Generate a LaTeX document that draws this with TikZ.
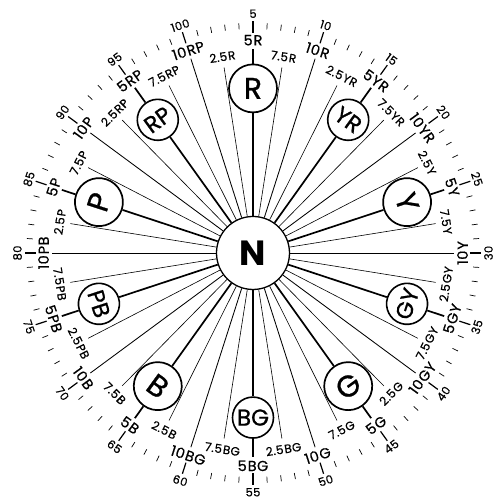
\documentclass[tikz,border=0pt]{standalone}
\usepackage{fontspec}
\setmainfont{Poppins}
\newfontfamily\labf{Poppins}[LetterSpace=3, FakeBold=0.5]
\newfontfamily\circf{Poppins}[FakeBold=0.8]
\begin{document}
\begin{tikzpicture}[x=1pt,y=1.016pt,
  tickminor/.style={line width=0.7pt},
  tickmajor/.style={line width=1.2pt},
  numlab/.style={font=\labf\fontsize{11.5}{11.5}\selectfont, inner sep=0pt},
  hlab/.style={font=\labf\fontsize{14.5}{14.5}\selectfont, inner sep=0pt},
  mlab/.style={font=\labf\fontsize{12}{12}\selectfont, inner sep=0pt},
  spoke/.style={line width=0.6pt},
  spokemid/.style={line width=0.85pt},
  spokemain/.style={line width=1.7pt},
  bigc/.style={circle, draw, line width=1.7pt, minimum size=48pt, inner sep=0pt, font=\circf\fontsize{30}{30}\selectfont},
  smallc/.style={circle, draw, line width=1.6pt, minimum size=41pt, inner sep=0pt, font=\circf\fontsize{23}{23}\selectfont},
  ncirc/.style={circle, draw, line width=1.3pt, minimum size=73pt, inner sep=0pt, font=\bfseries\fontsize{35}{35}\selectfont}]
\fill[white] (-253,-245.1) rectangle (242,249.0);
\useasboundingbox (-253,-245.1) rectangle (242,249.0);
\node[ncirc] (N) at (0,0) {N};
% outer ticks and numbers
\foreach \h in {1,...,100}{
  \pgfmathsetmacro\a{108-3.6*\h}
  \pgfmathsetmacro\rot{ifthenelse(and(\h>29.9,\h<79.9),198-3.6*\h,18-3.6*\h)}
  \pgfmathtruncatemacro\m{mod(\h,5)}
  \ifnum\m=0
    \coordinate (ti\h) at (\a:217);
    \coordinate (to\h) at (\a:228.5);
    \draw[tickmajor] (ti\h) -- (to\h);
    \node[numlab, rotate=\rot] (num\h) at (\a:235.5) {\h};
  \else
    \coordinate (ti\h) at (\a:220.5);
    \coordinate (to\h) at (\a:226.5);
    \draw[tickminor] (ti\h) -- (to\h);
  \fi
}
% hue families
\foreach \fam [count=\i from 0] in {R,YR,Y,GY,G,BG,B,PB,P,RP}{
  \pgfmathtruncatemacro\base{10*\i}
  % 2.5 and 7.5 spokes
  \foreach \off/\j in {2.5/a,7.5/b}{
    \pgfmathsetmacro\hh{\base+\off}
    \pgfmathsetmacro\a{108-3.6*\hh}
    \pgfmathsetmacro\rot{ifthenelse(and(\hh>29.9,\hh<79.9),198-3.6*\hh,18-3.6*\hh)}
    \coordinate (e\i\j) at (\a:185);
    \draw[spoke] (N) -- (e\i\j);
    \node[mlab, rotate=\rot] (l\i\j) at (\a:195.5) {\off\kern1pt\fam};
  }
  % 10 spoke
  \pgfmathsetmacro\hh{\base+10}
  \pgfmathsetmacro\a{108-3.6*\hh}
  \pgfmathsetmacro\rot{ifthenelse(and(\hh>29.9,\hh<79.9),198-3.6*\hh,18-3.6*\hh)}
  \coordinate (e\i t) at (\a:201);
  \draw[spokemid] (N) -- (e\i t);
  \node[hlab, rotate=\rot] (l\i t) at (\a:209.5) {10\kern1pt\fam};
  % 5 spoke with circle
  \pgfmathsetmacro\hh{\base+5}
  \pgfmathsetmacro\a{108-3.6*\hh}
  \pgfmathsetmacro\rot{ifthenelse(and(\hh>29.9,\hh<79.9),198-3.6*\hh,18-3.6*\hh)}
  \pgfmathtruncatemacro\parity{mod(\i,2)}
  \ifnum\parity=0
    \node[bigc, rotate=\rot] (c\i) at (\a:162) {\fam};
  \else
    \node[smallc, rotate=\rot] (c\i) at (\a:162) {\fam};
  \fi
  \coordinate (e\i f) at (\a:201);
  \draw[spokemain] (N) -- (c\i);
  \draw[spokemain] (c\i) -- (e\i f);
  \node[hlab, rotate=\rot] (l\i f) at (\a:209.5) {5\kern1pt\fam};
}
\end{tikzpicture}
\end{document}
